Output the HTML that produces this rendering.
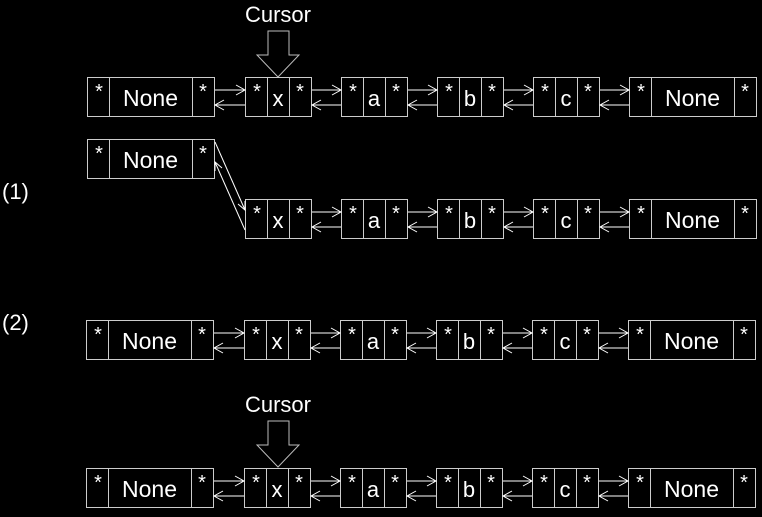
<!DOCTYPE html>
<html><head><meta charset="utf-8"><style>
html,body{margin:0;padding:0;background:#000;}
svg{display:block;}
text{font-family:"Liberation Sans","DejaVu Sans",sans-serif;fill:#fff;}
</style></head><body>
<svg id="s" width="762" height="517" viewBox="0 0 762 517" xmlns="http://www.w3.org/2000/svg">
<rect width="762" height="517" fill="#000"/>
<text x="2" y="199" font-size="22">(1)</text>
<text x="2" y="330" font-size="22">(2)</text>
</svg>
<script>
var NS='http://www.w3.org/2000/svg';
var svg=document.getElementById('s');
function el(t,a,p){var e=document.createElementNS(NS,t);for(var k in a)e.setAttribute(k,a[k]);(p||svg).appendChild(e);return e;}
function txt(x,y,s,size,g){var t=el('text',{x:x,y:y,'font-size':size,'text-anchor':'middle'},g);t.textContent=s;return t;}
function node(g,x,y,w,label){
  var h=39;
  el('rect',{x:x+0.5,y:y+0.5,width:w,height:h,fill:'none',stroke:'#ccc','stroke-width':1},g);
  var side=22;
  el('line',{x1:x+side+0.5,y1:y,x2:x+side+0.5,y2:y+h,stroke:'#ccc'},g);
  el('line',{x1:x+w-side+0.5,y1:y,x2:x+w-side+0.5,y2:y+h,stroke:'#ccc'},g);
  txt(x+side/2+1,y+21,'*',20,g);
  txt(x+w-side/2,y+21,'*',20,g);
  txt(x+w/2,y+29,label,label==='None'?23:22,g);
}
function arrowR(g,x1,x2,y){el('line',{x1:x1,y1:y,x2:x2,y2:y,stroke:'#fff'},g);el('polyline',{points:(x2-9)+','+(y-5)+' '+x2+','+y+' '+(x2-9)+','+(y+5),fill:'none',stroke:'#fff'},g);}
function arrowL(g,x1,x2,y){el('line',{x1:x1,y1:y,x2:x2,y2:y,stroke:'#fff'},g);el('polyline',{points:(x1+9)+','+(y-5)+' '+x1+','+y+' '+(x1+9)+','+(y+5),fill:'none',stroke:'#fff'},g);}
function cursor(x,y){
  var g=el('g',{});
  
  
  txt(x,y,'Cursor',22,g);
  el('polygon',{points:(x-10)+','+(y+9)+' '+(x+11)+','+(y+9)+' '+(x+11)+','+(y+33)+' '+(x+21)+','+(y+33)+' '+x+','+(y+55)+' '+(x-21)+','+(y+33)+' '+(x-10)+','+(y+33),fill:'none',stroke:'#bbb'},g);
}
var labels=['x','a','b','c'];
function row(y,dx,name,skipFirst){
  var g=el('g',{});
  
  
  var x0=87+dx;
  if(!skipFirst){node(g,x0,y,127,'None');}
  var xs=[245+dx,341+dx,437+dx,533+dx];
  for(var i=0;i<4;i++){node(g,xs[i],y,66,labels[i]);}
  node(g,629+dx,y,127,'None');
  var starts=[x0+128,xs[0]+67,xs[1]+67,xs[2]+67,xs[3]+67];
  var ends=[xs[0],xs[1],xs[2],xs[3],629+dx];
  for(var j=skipFirst?1:0;j<5;j++){arrowR(g,starts[j],ends[j],y+13);arrowL(g,starts[j],ends[j],y+28);}
  return g;
}
cursor(278,22);
row(77,0,'list-row-initial',false);
var g1=row(199,0,'list-row-step1',true);
node(g1,87,139,127,'None');
el('line',{x1:215,y1:142,x2:245,y2:210,stroke:'#fff'},g1);
el('polyline',{points:'238,204 245,210 245,201',fill:'none',stroke:'#fff'},g1);
el('line',{x1:215,y1:162,x2:245,y2:230,stroke:'#fff'},g1);
el('polyline',{points:'215,171 215,162 222,168',fill:'none',stroke:'#fff'},g1);
row(320,-1,'list-row-step2',false);
cursor(278,412);
row(468,-1,'list-row-final',false);
</script>
</body></html>
